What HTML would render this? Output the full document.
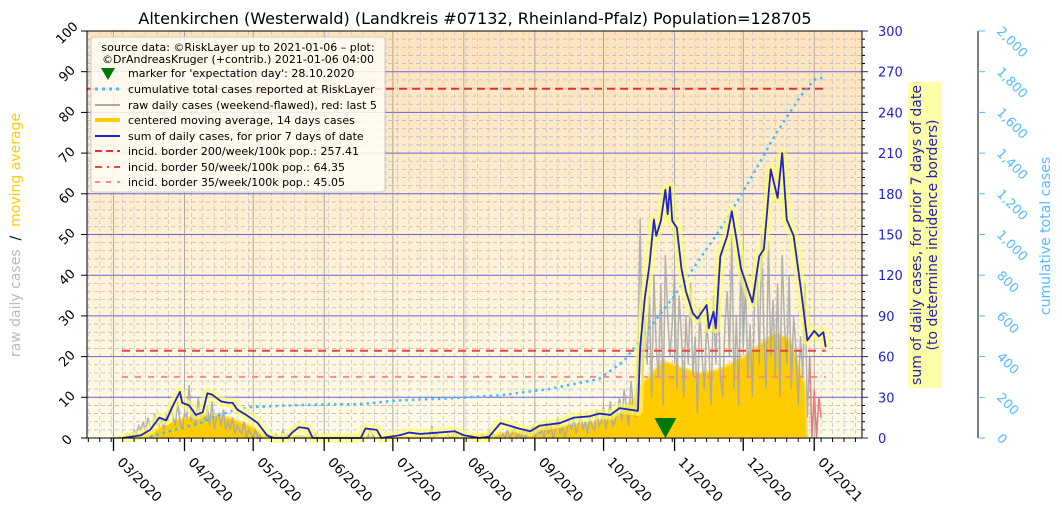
<!DOCTYPE html>
<html><head><meta charset="utf-8"><style>
html,body{margin:0;padding:0;background:#fff;}
svg{display:block;font-family:"DejaVu Sans","Liberation Sans",sans-serif;}
</style></head><body>
<svg id="chart" width="1062" height="513" viewBox="0 0 1062 513" xmlns="http://www.w3.org/2000/svg">
<defs>
<linearGradient id="bg" x1="0" y1="0" x2="0" y2="1">
<stop offset="0" stop-color="#ffe3bc"/><stop offset="1" stop-color="#fffbe6"/>
</linearGradient>
</defs>
<rect x="87" y="31" width="775" height="407" fill="url(#bg)"/>
<g id="grid"></g>
<g id="series"></g>
<g id="axes"></g>
<text x="475" y="24" font-size="16" text-anchor="middle" fill="#000">Altenkirchen (Westerwald) (Landkreis #07132, Rheinland-Pfalz) Population=128705</text>
<g>
<rect x="91" y="37" width="294" height="155" rx="3" fill="#fffdf5" fill-opacity="0.85" stroke="#ccc"/>
<text x="238" y="51" font-size="11" text-anchor="middle">source data: ©RiskLayer up to 2021-01-06 – plot:</text>
<text x="238" y="63" font-size="11" text-anchor="middle">©DrAndreasKruger (+contrib.) 2021-01-06 04:00</text>
<path d="M101,68 L115,68 L108,80 Z" fill="#007700"/>
<text x="128" y="77" font-size="11">marker for 'expectation day': 28.10.2020</text>
<line x1="95" y1="89" x2="120" y2="89" stroke="#44bbff" stroke-width="3" stroke-dasharray="3,4"/>
<text x="128" y="93" font-size="11">cumulative total cases reported at RiskLayer</text>
<line x1="95" y1="105" x2="120" y2="105" stroke="#aaa" stroke-width="2"/>
<text x="128" y="109" font-size="11">raw daily cases (weekend-flawed), red: last 5</text>
<line x1="95" y1="120" x2="120" y2="120" stroke="#ffcc00" stroke-width="4"/>
<text x="128" y="124" font-size="11">centered moving average, 14 days cases</text>
<line x1="95" y1="136" x2="120" y2="136" stroke="#2222cc" stroke-width="2"/>
<text x="128" y="140" font-size="11">sum of daily cases, for prior 7 days of date</text>
<line x1="95" y1="151" x2="120" y2="151" stroke="#dd3333" stroke-width="2" stroke-dasharray="7,4"/>
<text x="128" y="155" font-size="11">incid. border 200/week/100k pop.: 257.41</text>
<line x1="95" y1="167" x2="120" y2="167" stroke="#ee4444" stroke-width="2" stroke-dasharray="7,5,2,5"/>
<text x="128" y="171" font-size="11">incid. border 50/week/100k pop.: 64.35</text>
<line x1="95" y1="182" x2="120" y2="182" stroke="#ff8888" stroke-width="2" stroke-dasharray="5,6"/>
<text x="128" y="186" font-size="11">incid. border 35/week/100k pop.: 45.05</text>
</g>
<text transform="translate(20,235) rotate(-90)" font-size="14" text-anchor="middle" xml:space="preserve"><tspan fill="#bbbbbb">raw daily cases</tspan><tspan fill="#000">  /  </tspan><tspan fill="#ffcc00">moving average</tspan></text>
<rect x="908" y="82" width="34" height="306" rx="2" fill="#ffffaa"/>
<text transform="translate(925,235) rotate(-90)" font-size="14" text-anchor="middle" fill="#2222aa"><tspan x="0" dy="-4">sum of daily cases, for prior 7 days of date</tspan><tspan x="0" dy="16">(to determine incidence borders)</tspan></text>
<text transform="translate(1050,236) rotate(-90)" font-size="14" text-anchor="middle" fill="#55bbff">cumulative total cases</text>
</svg>
<script>
// ---- data ----
const rawStartDay = 0;
const rawDaily = [0,0,0,0,0,0,0,1,0,2, 1,3,2,4,1,5,3,2,6,4, 3,5,2,6,4,8,5,3,9,4, 2,6,5,13,4,7,3,10,5,6,
4,8,3,9,2,5,6,3,7,2, 4,2,5,1,3,2,1,4,0,2, 1,0,2,0,1,0,0,1,0,0, 0,1,0,0,2,0,1,0,0,0, 0,0,0,0,0,0,0,0,1,0,
0,0,0,0,0,0,0,0,0,0, 0,0,0,0,0,0,0,0,0,0, 0,0,2,1,0,0,0,0,0,0, 0,0,0,0,0,0,0,0,0,0, 0,0,0,0,0,0,0,0,0,3,
0,1,0,0,0,0,1,0,0,2, 0,0,0,0,0,0,0,0,0,0, 0,1,0,0,2,0,1,0,0,0, 1,0,2,0,1,3,0,1,0,2, 0,2,1,3,0,2,1,2,0,4,
1,3,0,2,5,1,3,0,2,4, 2,5,1,3,6,2,4,1,5,3, 2,7,3,4,8,2,5,9,3,4, 6,10,4,12,7,3,14,8,5,20, 54,12,30,18,35,10,40,22,15,38,
8,45,30,20,28,40,12,35,25,10, 30,18,38,15,25,6,32,20,12,28, 22,8,35,18,40,15,10,28,36,20, 50,12,30,8,45,22,38,15,28,10,
35,42,18,50,25,12,48,20,34,15, 38,10,45,28,18,40,12,30,22,8, 25,15,38,5,20];
const rawLast5 = [0,12,0,10,5];
const maDays = [0,8,16,27,40,51,60,66,72,80,90,110,120,130,150,165,180,195,210,220,226,230,240,250,256,265,275,282,289,296,302,303];
const maVals = [0,0.5,1.5,4.4,6,5,3,0.7,0.2,0.5,0.1,0.5,0.1,0.3,0.5,0.8,2,3,4,6,9,13,19,17,16,17,20,23,26,24,13,0];
const sumDays = [4,12,16,20,23,26,29,30,33,36,39,41,43,47,50,52,54,58,63,67,70,76,78,81,85,87,108,110,115,117,125,129,134,142,149,153,160,164,169,173,177,182,186,195,201,208,212,217,221,225,229,230,232,234,236,237,239,241,242,243,244,246,248,250,253,255,257,259,260,262,263,265,268,270,272,274,276,279,282,284,287,290,292,294,297,300,303,306,308,310,311];
const sumVals = [0,2,6,15,13,24,34,26,24,17,19,33,32,27,26,26,21,17,11,2,0,0,4,8,7,0,0,7,6,0,2,4,3,4,5,2,0,1,11,9,7,5,9,11,15,16,18,17,22,21,20,67,103,127,161,149,160,183,165,185,160,155,125,108,92,88,93,98,81,93,81,134,149,167,147,125,115,100,134,139,198,177,210,161,149,112,72,79,75,78,67];
const cumDays = [16,23,38,44,53,60,81,108,125,147,169,190,212,223,234,245,256,267,278,289,300,306,311];
const cumVals = [5,30,74,103,138,152,162,167,185,195,210,240,290,380,540,700,880,1060,1270,1490,1680,1760,1775];
const borders = [257.41, 64.35, 45.05];
const expectationDay = 241;
const monthLabels = ["03/2020","04/2020","05/2020","06/2020","07/2020","08/2020","09/2020","10/2020","11/2020","12/2020","01/2021"];
const monthDays = [0,31,61,92,122,153,184,214,245,275,306];
const leftTicks = [0,10,20,30,40,50,60,70,80,90,100];
const rightTicks = [0,30,60,90,120,150,180,210,240,270,300];
const cumTicks = [0,200,400,600,800,1000,1200,1400,1600,1800,2000];
const cumTickLabels = ["0","200","400","600","800","1,000","1,200","1,400","1,600","1,800","2,000"];

// ---- scales ----
const X = d => 113.5 + d*2.29;
const YL = v => 438 - v*4.07;
const YR = v => 438 - v*1.3567;
const YC = v => 438 - v*0.2035;
const NS = "http://www.w3.org/2000/svg";
function mk(tag, attrs, parent){const e=document.createElementNS(NS,tag);for(const k in attrs)e.setAttribute(k,attrs[k]);parent.appendChild(e);return e;}
const grid=document.getElementById('grid'), ser=document.getElementById('series'), ax=document.getElementById('axes');

for(let v=0; v<=100; v+=2){
  if(v%10===0) continue;
  const g=mk('line',{x1:87,x2:862,y1:YL(v),y2:YL(v),stroke:'#b8b8d0','stroke-width':0.8,'stroke-dasharray':'4,3'},grid);
  
  
}
for(let d=-11; d<=327; d+=5){
  const g=mk('line',{x1:X(d),x2:X(d),y1:31,y2:438,stroke:'#c4c4d0','stroke-width':0.8,'stroke-dasharray':'4,3'},grid);
  
  
}
leftTicks.forEach(v=>{
  const g=mk('line',{x1:87,x2:862,y1:YL(v),y2:YL(v),stroke:'#6666dd','stroke-width':1},grid);
  
  
});
monthDays.forEach(d=>{
  const g=mk('line',{x1:X(d),x2:X(d),y1:31,y2:438,stroke:'#999','stroke-width':0.8},grid);
  
  
});

let p='M'+X(maDays[0])+','+YL(0);
maDays.forEach((d,i)=>{p+=' L'+X(d)+','+YL(maVals[i]);});
p+=' L'+X(maDays[maDays.length-1])+','+YL(0)+' Z';
const ma=mk('path',{d:p,fill:'#ffcc00',stroke:'#ffe066','stroke-width':2},ser);



let rp='';
rawDaily.forEach((v,i)=>{rp+=(i?' L':'M')+X(rawStartDay+i)+','+YL(v);});
const raw=mk('path',{d:rp,fill:'none',stroke:'#aaaaaa','stroke-width':1.5,'stroke-opacity':0.9},ser);


let lp='M'+X(rawStartDay+rawDaily.length-1)+','+YL(rawDaily[rawDaily.length-1]);
rawLast5.forEach((v,i)=>{lp+=' L'+X(rawStartDay+rawDaily.length+i)+','+YL(v);});
const last=mk('path',{d:lp,fill:'none',stroke:'#ee7777','stroke-width':1.5},ser);



const bStyles=[['#dd3333','8,5',87],['#ee4444','8,6',122],['#ff8888','6,7',122]];
borders.forEach((b,i)=>{
  const l=mk('line',{x1:bStyles[i][2],x2:X(311),y1:YR(b),y2:YR(b),stroke:bStyles[i][0],'stroke-width':2,'stroke-dasharray':bStyles[i][1]},ser);
  
  
});

let cp='';
cumDays.forEach((d,i)=>{cp+=(i?' L':'M')+X(d)+','+YC(cumVals[i]);});
const cum=mk('path',{d:cp,fill:'none',stroke:'#44bbff','stroke-width':2.5,'stroke-dasharray':'2.5,4'},ser);



let sp='';
sumDays.forEach((d,i)=>{sp+=(i?' L':'M')+X(d)+','+YR(sumVals[i]);});
const glow=mk('path',{d:sp,fill:'none',stroke:'#ffff66','stroke-width':10,'stroke-opacity':0.6,'stroke-linejoin':'round'},ser);


const sl=mk('path',{d:sp,fill:'none',stroke:'#2222cc','stroke-width':1.8,'stroke-linejoin':'round'},ser);



const ex=X(expectationDay);
const mkr=mk('path',{d:`M${ex-11},418 L${ex+11},418 L${ex},438 Z`,fill:'#007700'},ser);



const frame=mk('rect',{x:87,y:31,width:775,height:407,fill:'none',stroke:'#000','stroke-width':1},ax);


leftTicks.forEach(v=>{
  mk('line',{x1:81,x2:87,y1:YL(v),y2:YL(v),stroke:'#000'},ax);
  const t=mk('text',{transform:`translate(70,${YL(v)+5}) rotate(-45)`,'font-size':13,'text-anchor':'middle'},ax);
  t.textContent=v;
  
  
});
for(let v=0; v<=300; v+=6){
  mk('line',{x1:862,x2:v%30===0?868:865,y1:YR(v),y2:YR(v),stroke:v%30===0?'#2222aa':'#000'},ax);
}
rightTicks.forEach(v=>{
  const t=mk('text',{x:878,y:YR(v)+5,'font-size':13,fill:'#2222cc'},ax);
  t.textContent=v;
  
  
});
mk('line',{x1:978,x2:978,y1:31,y2:438,stroke:'#000'},ax);
cumTicks.forEach((v,i)=>{
  mk('line',{x1:978,x2:985,y1:YC(v),y2:YC(v),stroke:'#55bbff'},ax);
  const t=mk('text',{transform:`translate(996,${YC(v)+1}) rotate(45)`,'font-size':13,fill:'#55bbff','text-anchor':'start'},ax);
  t.textContent=cumTickLabels[i];
  
  
});
for(let d=-11; d<=327; d+=5){mk('line',{x1:X(d),x2:X(d),y1:438,y2:442,stroke:'#000'},ax);}
monthDays.forEach((d,i)=>{
  mk('line',{x1:X(d),x2:X(d),y1:438,y2:451,stroke:'#000','stroke-width':1.3},ax);
  const t=mk('text',{transform:`translate(${X(d)+3},${463}) rotate(45)`,'font-size':13.5,'text-anchor':'start'},ax);
  t.textContent=monthLabels[i];
  
  
});
</script>
</body></html>
